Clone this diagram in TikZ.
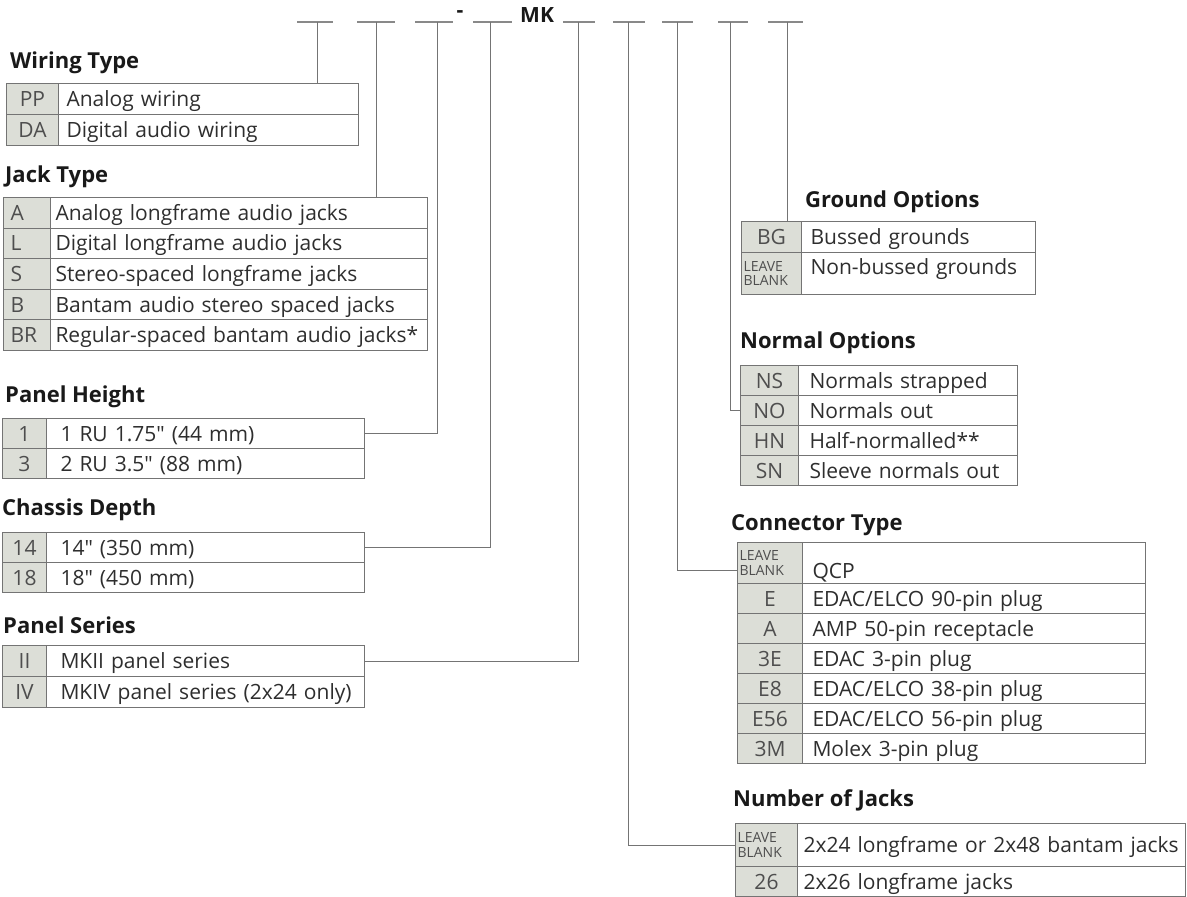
\documentclass[tikz,border=0pt]{standalone}
\usepackage{fontspec}
\setmainfont{Open Sans}
\newfontfamily\tabfont{Open Sans}
\definecolor{rulegrey}{HTML}{747474}
\definecolor{codefill}{HTML}{DCDED7}
\definecolor{codetext}{HTML}{4E4E4E}
\definecolor{desctext}{HTML}{2E2E2E}
\tikzset{
  codecell/.style={draw=rulegrey, fill=codefill, line width=1pt, anchor=north west, inner sep=0pt,
    text=codetext, font=\tabfont\fontsize{21}{23}\selectfont, text height=17pt, text depth=2pt},
  desccell/.style={draw=rulegrey, line width=1pt, anchor=north west, inner xsep=8pt, inner ysep=0pt,
    align=left, text=desctext, font=\tabfont\fontsize{21}{23}\selectfont, text height=17pt, text depth=2pt},
  leaveblank/.style={font=\tabfont\fontsize{14}{14.5}\selectfont, align=left, inner xsep=2pt,
    text height={}, text depth={}},
  grouptitle/.style={anchor=west, inner sep=0pt, text=black!90, font=\tabfont\fontsize{22}{24}\selectfont\bfseries},
  partmark/.style={inner sep=0pt, text=black!90, font=\tabfont\fontsize{21}{23}\selectfont\bfseries},
  blankline/.style={draw=rulegrey!85, line width=1.2pt},
  leader/.style={draw=rulegrey, line width=1pt}
}
\begin{document}
\begin{tikzpicture}[x=1pt,y=-1pt]
\useasboundingbox (0,0) rectangle (1187,897);
% blanks of the part number
\foreach \n/\a/\b/\s in {1/297/333/317, 2/357/395/376, 3/415/453/437, 4/473/512/490, 5/563/595/578,
  6/613/645/628, 7/662/693/677, 8/718/748/730, 9/768/803/787}{
  \draw[blankline] (\a,22) -- (\b,22);
  \coordinate (bk\n) at (\s,22);
}
\node[partmark] (dash) at (460,14) {-};
\node[partmark, anchor=base west] (mk) at (520,22) {MK};

% Wiring Type
\node[grouptitle] (wt) at (10,63) {Wiring Type};
\foreach \cd/\ds [count=\i] in {PP/Analog wiring, DA/Digital audio wiring}{
  \node[codecell, minimum width=52pt, minimum height=31pt] (wt-c\i) at (6,{83+31*(\i-1)}) {\cd};
  \node[desccell, text width=284pt, minimum height=31pt] (wt-d\i) at (58,{83+31*(\i-1)}) {\mbox{\ds}};
}

% Jack Type
\node[grouptitle] (jt) at (5,177) {Jack Type};
\foreach \cd/\ds [count=\i] in {A/Analog longframe audio jacks, L/Digital longframe audio jacks,
  S/Stereo-spaced longframe jacks, B/Bantam audio stereo spaced jacks, BR/Regular-spaced bantam audio jacks*}{
  \node[codecell, inner xsep=7pt, text width=33pt, align=left, minimum height=30.6pt] (jt-c\i) at (3,{197+30.6*(\i-1)}) {\cd};
  \node[desccell, inner xsep=5pt, text width=367pt, minimum height=30.6pt] (jt-d\i) at (50,{197+30.6*(\i-1)}) {\mbox{\ds}};
}

% Panel Height
\node[grouptitle] (ph) at (5,397) {Panel Height};
\foreach \cd/\ds [count=\i] in {1/{1 RU 1.75" (44 mm)}, 3/{2 RU 3.5" (88 mm)}}{
  \node[codecell, minimum width=44pt, minimum height=30pt] (ph-c\i) at (2,{418+30*(\i-1)}) {\cd};
  \node[desccell, inner xsep=14pt, text width=290pt, minimum height=30pt] (ph-d\i) at (46,{418+30*(\i-1)}) {\mbox{\ds}};
}

% Chassis Depth
\node[grouptitle] (cd) at (2,510) {Chassis Depth};
\foreach \cd/\ds [count=\i] in {14/{14" (350 mm)}, 18/{18" (450 mm)}}{
  \node[codecell, minimum width=44pt, minimum height=30pt] (cd-c\i) at (2,{532+30*(\i-1)}) {\cd};
  \node[desccell, inner xsep=14pt, text width=290pt, minimum height=30pt] (cd-d\i) at (46,{532+30*(\i-1)}) {\mbox{\ds}};
}

% Panel Series
\node[grouptitle] (ps) at (3,625) {Panel Series};
\foreach \cd/\ds [count=\i] in {II/MKII panel series, IV/{MKIV panel series (2x24 only)}}{
  \node[codecell, minimum width=44pt, minimum height=31pt] (ps-c\i) at (2,{645+31*(\i-1)}) {\cd};
  \node[desccell, inner xsep=14pt, text width=290pt, minimum height=31pt] (ps-d\i) at (46,{645+31*(\i-1)}) {\mbox{\ds}};
}

% Ground Options
\node[grouptitle] (go) at (805,202) {Ground Options};
\node[codecell, minimum width=60pt, minimum height=31pt] (go-c1) at (741,221) {BG};
\node[desccell, inner xsep=9pt, text width=216pt, minimum height=31pt] (go-d1) at (801,221) {Bussed grounds};
\node[codecell, leaveblank, text width=56pt, minimum height=42pt] (go-c2) at (741,252) {LEAVE\\BLANK};
\node[desccell, inner xsep=9pt, text width=216pt, minimum height=42pt, text depth=16pt] (go-d2) at (801,252) {\mbox{Non-bussed grounds}};

% Normal Options
\node[grouptitle] (nm) at (740,343) {Normal Options};
\foreach \cd/\ds [count=\i] in {NS/Normals strapped, NO/Normals out, HN/Half-normalled**, SN/Sleeve normals out}{
  \node[codecell, minimum width=58pt, minimum height=30pt] (no-c\i) at (740,{365+30*(\i-1)}) {\cd};
  \node[desccell, inner xsep=11pt, text width=197pt, minimum height=30pt] (no-d\i) at (798,{365+30*(\i-1)}) {\mbox{\ds}};
}

% Connector Type
\node[grouptitle] (ct) at (731,525) {Connector Type};
\node[codecell, leaveblank, text width=61pt, minimum height=41pt] (ct-c1) at (737,542) {LEAVE\\BLANK};
\node[desccell, inner xsep=10pt, text width=323pt, minimum height=41pt, text height=31pt, text depth=1pt] (ct-d1) at (802,542) {QCP};
\foreach \cd/\ds [count=\i from 2] in {E/{EDAC/ELCO 90-pin plug}, A/AMP 50-pin receptacle, 3E/EDAC 3-pin plug,
  E8/{EDAC/ELCO 38-pin plug}, E56/{EDAC/ELCO 56-pin plug}, 3M/Molex 3-pin plug}{
  \node[codecell, minimum width=65pt, minimum height=30pt] (ct-c\i) at (737,{583+30*(\i-2)}) {\cd};
  \node[desccell, inner xsep=10pt, text width=323pt, minimum height=30pt] (ct-d\i) at (802,{583+30*(\i-2)}) {\mbox{\ds}};
}

% Number of Jacks
\node[grouptitle] (nj) at (733,800) {Number of Jacks};
\node[codecell, leaveblank, text width=58pt, minimum height=43pt] (nj-c1) at (735,823) {LEAVE\\BLANK};
\node[desccell, inner xsep=6pt, text width=376pt, minimum height=43pt] (nj-d1) at (797,823) {\mbox{2x24 longframe or 2x48 bantam jacks}};
\node[codecell, minimum width=62pt, minimum height=30pt] (nj-c2) at (735,866) {26};
\node[desccell, inner xsep=6pt, text width=376pt, minimum height=30pt] (nj-d2) at (797,866) {2x26 longframe jacks};

% leaders from the blanks to the tables
\draw[leader] (bk1) -- (bk1 |- wt-d1.north);
\draw[leader] (bk2) -- (bk2 |- jt-d1.north);
\draw[leader] (bk3) |- (ph-d1.east);
\draw[leader] (bk4) |- (cd-d1.east);
\draw[leader] (bk5) |- (ps-d1.east);
\draw[leader] (bk6) |- (nj-c1.west);
\draw[leader] (bk7) |- ([yshift=-7pt]ct-c1.west);
\draw[leader] (bk8) |- (no-c2.west);
\draw[leader] (bk9) -- (bk9 |- go-c1.north);
\end{tikzpicture}
\end{document}
